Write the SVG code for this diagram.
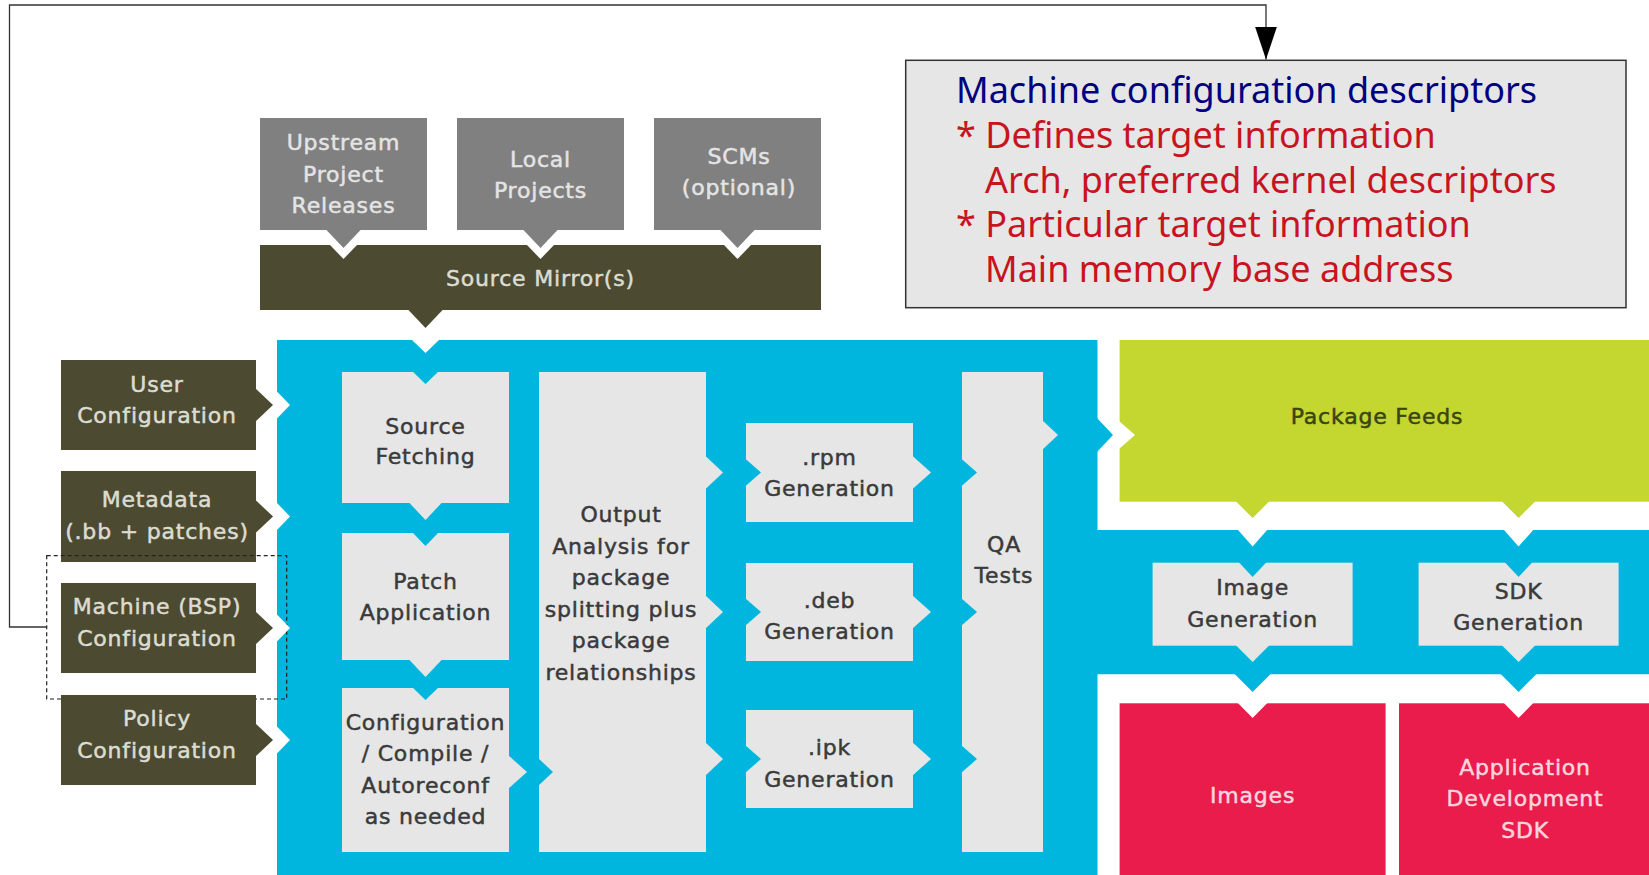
<svg xmlns="http://www.w3.org/2000/svg" width="1649" height="875" viewBox="0 0 1649 875">
<defs>
<style>
.t{font-family:"DejaVu Sans","Liberation Sans",sans-serif;font-size:22px;letter-spacing:0.8px;text-anchor:middle;stroke-width:0.5px}
.tg{fill:#e4e4e4;stroke:#e4e4e4}
.to{fill:#dcdcd2;stroke:#dcdcd2}
.ti{fill:#3a3a3a;stroke:#3a3a3a}
.tgr{fill:#3b4510;stroke:#3b4510}
.tr{fill:#fbd5de;stroke:#fbd5de}
.gray{fill:#808080}
.olive{fill:#4c4b31}
.blue{fill:#00b6de}
.light{fill:#e6e6e6}
.green{fill:#c3d730}
.red{fill:#e91c4c}
.white{fill:#ffffff}
.c{font-family:"Noto Sans","Open Sans","DejaVu Sans",sans-serif;font-size:36px}
.cb{fill:#000080}
.cr{fill:#c8141e}
.link{fill:none;stroke:#333333;stroke-width:1.3}
.dash{fill:none;stroke:#222222;stroke-width:1.2;stroke-dasharray:4 3}
</style>
<marker id="arrow" markerUnits="userSpaceOnUse" markerWidth="33" markerHeight="22" viewBox="0 0 33 22" refX="33" refY="11" orient="auto">
<path d="M0,0 L33,11 L0,22 z" fill="#000000"/>
</marker>
</defs>

<g id="nodes">
<g id="build-system">
<polygon class="blue" points="277,340 1097.5,340 1097.5,530 1649,530 1649,674.3 1097.5,674.3 1097.5,875 277,875"/>
</g>

<g id="upstream-releases">
<rect class="gray" x="260" y="118" width="167" height="112"/>
<text class="t tg" x="343.5" y="150">Upstream</text>
<text class="t tg" x="343.5" y="181.5">Project</text>
<text class="t tg" x="343.5" y="213">Releases</text>
</g>
<g id="local-projects">
<rect class="gray" x="457" y="118" width="167" height="112"/>
<text class="t tg" x="540.5" y="166.5">Local</text>
<text class="t tg" x="540.5" y="197.5">Projects</text>
</g>
<g id="scms">
<rect class="gray" x="654" y="118" width="167" height="112"/>
<text class="t tg" x="739" y="163.5">SCMs</text>
<text class="t tg" x="739" y="194.5">(optional)</text>
</g>
<g id="source-mirrors">
<rect class="olive" x="260" y="245" width="561" height="65"/>
<text class="t to" x="540.5" y="286">Source Mirror(s)</text>
</g>

<g id="user-configuration">
<rect class="olive" x="61" y="360" width="195" height="90"/>
<text class="t to" x="157" y="392">User</text>
<text class="t to" x="157" y="423">Configuration</text>
</g>
<g id="metadata">
<rect class="olive" x="61" y="471" width="195" height="91"/>
<text class="t to" x="157" y="507">Metadata</text>
<text class="t to" x="157" y="538.5">(.bb + patches)</text>
</g>
<g id="machine-configuration">
<rect class="olive" x="61" y="583" width="195" height="90"/>
<text class="t to" x="157" y="614">Machine (BSP)</text>
<text class="t to" x="157" y="646">Configuration</text>
<rect class="dash" x="46.7" y="555.7" width="240" height="143.3"/>
</g>
<g id="policy-configuration">
<rect class="olive" x="61" y="695" width="195" height="90"/>
<text class="t to" x="157" y="726">Policy</text>
<text class="t to" x="157" y="757.5">Configuration</text>
</g>

<g id="source-fetching">
<rect class="light" x="342" y="372" width="167" height="131"/>
<text class="t ti" x="425.5" y="433.5">Source</text>
<text class="t ti" x="425.5" y="464">Fetching</text>
</g>
<g id="patch-application">
<rect class="light" x="342" y="533" width="167" height="127"/>
<text class="t ti" x="425.5" y="588.5">Patch</text>
<text class="t ti" x="425.5" y="620">Application</text>
</g>
<g id="configure-compile">
<rect class="light" x="342" y="688" width="167" height="164"/>
<text class="t ti" x="425.5" y="729.5">Configuration</text>
<text class="t ti" x="425.5" y="761">/ Compile /</text>
<text class="t ti" x="425.5" y="792.5">Autoreconf</text>
<text class="t ti" x="425.5" y="824">as needed</text>
</g>
<g id="output-analysis">
<rect class="light" x="539" y="372" width="167" height="480"/>
<text class="t ti" x="621" y="522">Output</text>
<text class="t ti" x="621" y="553.5">Analysis for</text>
<text class="t ti" x="621" y="585">package</text>
<text class="t ti" x="621" y="616.5">splitting plus</text>
<text class="t ti" x="621" y="648">package</text>
<text class="t ti" x="621" y="679.5">relationships</text>
</g>
<g id="rpm-generation">
<rect class="light" x="746" y="423" width="167" height="99"/>
<text class="t ti" x="829.5" y="465">.rpm</text>
<text class="t ti" x="829.5" y="496">Generation</text>
</g>
<g id="deb-generation">
<rect class="light" x="746" y="563" width="167" height="98"/>
<text class="t ti" x="829.5" y="607.5">.deb</text>
<text class="t ti" x="829.5" y="639">Generation</text>
</g>
<g id="ipk-generation">
<rect class="light" x="746" y="710" width="167" height="98"/>
<text class="t ti" x="829.5" y="755">.ipk</text>
<text class="t ti" x="829.5" y="786.5">Generation</text>
</g>
<g id="qa-tests">
<rect class="light" x="962" y="372" width="81" height="480"/>
<text class="t ti" x="1004" y="552">QA</text>
<text class="t ti" x="1004" y="583">Tests</text>
</g>

<g id="package-feeds">
<rect class="green" x="1119.6" y="340" width="529.4" height="161.7"/>
<text class="t tgr" x="1377" y="423.5">Package Feeds</text>
</g>
<g id="image-generation">
<rect class="light" x="1152.6" y="562.7" width="200" height="83"/>
<text class="t ti" x="1252.6" y="595">Image</text>
<text class="t ti" x="1252.6" y="626.5">Generation</text>
</g>
<g id="sdk-generation">
<rect class="light" x="1418.6" y="562.7" width="200" height="83"/>
<text class="t ti" x="1518.6" y="598.5">SDK</text>
<text class="t ti" x="1518.6" y="630">Generation</text>
</g>
<g id="images">
<rect class="red" x="1119.6" y="703.3" width="266" height="171.7"/>
<text class="t tr" x="1252.6" y="802.5">Images</text>
</g>
<g id="app-dev-sdk">
<rect class="red" x="1399" y="703.3" width="250" height="171.7"/>
<text class="t tr" x="1525" y="774.5">Application</text>
<text class="t tr" x="1525" y="806">Development</text>
<text class="t tr" x="1525" y="837.5">SDK</text>
</g>

<g id="machine-descriptors">
<rect x="905.7" y="60.3" width="720.3" height="247.4" fill="#e6e6e6" stroke="#333333" stroke-width="1.5"/>
<text class="c cb" x="956" y="103.3">Machine configuration descriptors</text>
<text class="c cr" x="956" y="147.7">* Defines target information</text>
<text class="c cr" x="985" y="192.5">Arch, preferred kernel descriptors</text>
<text class="c cr" x="956" y="237.2">* Particular target information</text>
<text class="c cr" x="985" y="281.7">Main memory base address</text>
</g>
</g>

<g id="connectors">
<g id="flow-notches">
<polygon class="white" points="329.5,244.5 357.5,244.5 343.5,259"/>
<polygon class="white" points="526.5,244.5 554.5,244.5 540.5,259"/>
<polygon class="white" points="723.5,244.5 751.5,244.5 737.5,259"/>
<polygon class="white" points="411.5,339.5 439.5,339.5 425.5,353"/>
<polygon class="blue" points="412,371 439,371 425.5,384"/>
<polygon class="blue" points="412,532 439,532 425.5,546"/>
<polygon class="blue" points="412,687 439,687 425.5,700"/>
<polygon class="white" points="276.5,391 276.5,419 290,405"/>
<polygon class="white" points="276.5,502.5 276.5,530.5 290,516.5"/>
<polygon class="white" points="276.5,614 276.5,642 290,628"/>
<polygon class="white" points="276.5,726 276.5,754 290,740"/>
<polygon class="blue" points="538,758 538,786 553,772"/>
<polygon class="blue" points="745,458.5 745,486.5 761,472.5"/>
<polygon class="blue" points="745,598 745,626 761,612"/>
<polygon class="blue" points="745,745 745,773 761,759"/>
<polygon class="blue" points="961,458.5 961,486.5 977,472.5"/>
<polygon class="blue" points="961,598 961,626 977,612"/>
<polygon class="blue" points="961,745 961,773 977,759"/>
<polygon class="white" points="1119,421 1119,449 1135,435"/>
<polygon class="white" points="1237.6,529.5 1267.6,529.5 1252.6,546.5"/>
<polygon class="white" points="1503.6,529.5 1533.6,529.5 1518.6,546.5"/>
<polygon class="blue" points="1238.6,562 1266.6,562 1252.6,577"/>
<polygon class="blue" points="1504.6,562 1532.6,562 1518.6,577"/>
<polygon class="white" points="1237.6,702.8 1267.6,702.8 1252.6,718"/>
<polygon class="white" points="1503.6,702.8 1533.6,702.8 1518.6,718"/>
</g>
<g id="flow-pointers">
<polygon class="gray" points="325.5,229 361.5,229 343.5,248"/>
<polygon class="gray" points="522.5,229 558.5,229 540.5,248"/>
<polygon class="gray" points="719.5,229 755.5,229 737.5,248"/>
<polygon class="olive" points="407.5,309 443.5,309 425.5,328"/>
<polygon class="light" points="408.5,502 442.5,502 425.5,520"/>
<polygon class="light" points="408.5,659 442.5,659 425.5,677"/>
<polygon class="olive" points="255,388 255,422 273,405"/>
<polygon class="olive" points="255,499.5 255,533.5 273,516.5"/>
<polygon class="olive" points="255,611 255,645 273,628"/>
<polygon class="olive" points="255,723 255,757 273,740"/>
<polygon class="light" points="508,755 508,789 527,772"/>
<polygon class="light" points="705,455.5 705,489.5 723,472.5"/>
<polygon class="light" points="705,595 705,629 723,612"/>
<polygon class="light" points="705,742 705,776 723,759"/>
<polygon class="light" points="912,455.5 912,489.5 931,472.5"/>
<polygon class="light" points="912,595 912,629 931,612"/>
<polygon class="light" points="912,742 912,776 931,759"/>
<polygon class="light" points="1042,420 1042,450 1058,435"/>
<polygon class="blue" points="1097,418 1097,452 1113,435"/>
<polygon class="green" points="1235.6,501 1269.6,501 1252.6,518"/>
<polygon class="green" points="1501.6,501 1535.6,501 1518.6,518"/>
<polygon class="light" points="1235.6,645 1269.6,645 1252.6,662"/>
<polygon class="light" points="1501.6,645 1535.6,645 1518.6,662"/>
<polygon class="blue" points="1234.6,674 1270.6,674 1252.6,692"/>
<polygon class="blue" points="1500.6,674 1536.6,674 1518.6,692"/>
</g>
<path id="machine-to-descriptors" class="link" d="M46.7,627 H9.5 V5 H1266 V59.5" marker-end="url(#arrow)"/>
</g>
</svg>
